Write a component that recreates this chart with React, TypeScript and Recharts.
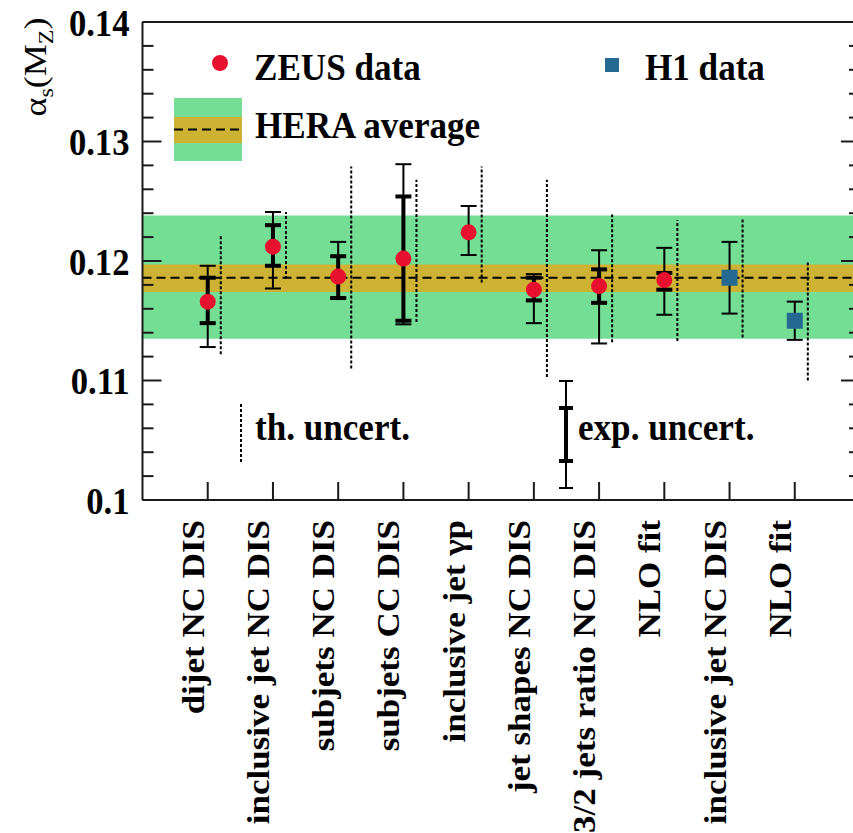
import {
  ComposedChart,
  Scatter,
  XAxis,
  YAxis,
  ErrorBar,
  ReferenceArea,
  ReferenceLine,
} from "recharts";

const categories = [
  "dijet NC DIS",
  "inclusive jet NC DIS",
  "subjets NC DIS",
  "subjets CC DIS",
  "inclusive jet γp",
  "jet shapes NC DIS",
  "3/2 jets ratio NC DIS",
  "NLO fit",
  "inclusive jet NC DIS",
  "NLO fit",
];
const experiment = ["ZEUS", "ZEUS", "ZEUS", "ZEUS", "ZEUS", "ZEUS", "ZEUS", "ZEUS", "H1", "H1"];
const alphaS = [0.1166, 0.1212, 0.1187, 0.1202, 0.1224, 0.1176, 0.1179, 0.1184, 0.1186, 0.115];
// thin bars
const expLow = [0.1128, 0.1177, 0.1169, 0.1147, 0.1205, 0.1148, 0.1131, 0.1155, 0.1156, 0.1134];
const expHigh = [0.1196, 0.1241, 0.1216, 0.1281, 0.1246, 0.1189, 0.1209, 0.1211, 0.1216, 0.1166];
// thick bars (null = hidden under the marker)
const statLow = [0.1148, 0.1196, 0.1169, 0.115, null, 0.1167, 0.1165, 0.1176, null, null];
const statHigh = [0.1186, 0.123, 0.1204, 0.1254, null, 0.1186, 0.1193, 0.119, null, null];
// dotted theory bars
const thLow = [0.1122, 0.1185, 0.111, 0.1149, 0.1182, 0.1103, 0.1132, 0.1133, 0.1136, 0.11];
const thHigh = [0.1221, 0.1241, 0.1279, 0.1268, 0.1279, 0.1268, 0.1239, 0.1234, 0.1235, 0.1199];

const heraAverage = 0.1186;
const heraExp = [0.1174, 0.1197];
const heraTotal = [0.1135, 0.1238];

const yTickLabels = ["0.1", "0.11", "0.12", "0.13", "0.14"];

const RED = "#e8102f";
const BLUE = "#24698f";
const GREEN = "#74de95";
const GOLD = "#cdb234";
const INK = "#1a1a1a";
const serif = { fontFamily: '"Liberation Serif", monospace' };
const TH_SHIFT = 0.2;

const yTicks = Array.from({ length: 21 }, (_, i) => Math.round((0.1 + i * 0.002) * 1000) / 1000);
const isMajor = (v: number) => Math.round(v * 1000) % 10 === 0;

const points = categories.map((name, i) => ({
  x: i + 1,
  name,
  exp: experiment[i],
  y: alphaS[i],
  expErr: [alphaS[i] - expLow[i], expHigh[i] - alphaS[i]],
  statErr:
    statLow[i] == null ? null : [alphaS[i] - (statLow[i] as number), (statHigh[i] as number) - alphaS[i]],
}));
const statPoints = points.filter((p) => p.statErr);
const zeusPoints = points.filter((p) => p.exp === "ZEUS");
const h1Points = points.filter((p) => p.exp === "H1");

// the original figure is a bit squeezed horizontally
const Label = ({ x, y, size = 39, anchor = "start", dy, children }: any) => (
  <text
    transform={`translate(${x},${y}) scale(0.9,1)`}
    dy={dy}
    textAnchor={anchor}
    style={serif}
    fontWeight="bold"
    fontSize={size}
    fill="#000"
  >
    {children}
  </text>
);

const CategoryTick = (props: any) => {
  const { x, y, payload } = props;
  return (
    <text
      transform={`translate(${x - 4},${y}) rotate(-90) scale(1,0.9)`}
      textAnchor="end"
      style={serif}
      fontWeight="bold"
      fontSize={35}
      fill="#000"
    >
      {categories[payload.value - 1]}
    </text>
  );
};

const LeftTick = (props: any) => {
  const { x, y, payload } = props;
  const major = isMajor(payload.value);
  const idx = Math.round((payload.value - 0.1) * 100);
  return (
    <g>
      <line x1={x} x2={x + (major ? 19 : 11)} y1={y} y2={y} stroke={INK} strokeWidth={2} />
      {major && (
        <Label x={x - 13} y={y} dy="0.36em" anchor="end" size={38.5}>
          {yTickLabels[idx]}
        </Label>
      )}
    </g>
  );
};

const RightTick = (props: any) => {
  const { x, y, payload } = props;
  const major = isMajor(payload.value);
  return <line x1={x - (major ? 19 : 11)} x2={x} y1={y} y2={y} stroke={INK} strokeWidth={2} />;
};

const Dot = (p: any) => <circle cx={p.cx} cy={p.cy} r={8} fill={RED} />;
const Square = (p: any) => <rect x={p.cx - 8} y={p.cy - 8} width={16} height={16} fill={BLUE} />;
const Nothing = () => <g />;

const Overlay = () => (
  <svg width={853} height={833} style={{ position: "absolute", left: 0, top: 0, pointerEvents: "none" }}>
    {/* y title */}
    <text
      transform="translate(46,67) rotate(-90) scale(1,0.9)"
      textAnchor="middle"
      fontSize={36}
      fill="#000"
      style={serif}
    >
      α<tspan dy={8} fontSize={24}>s</tspan>
      <tspan dy={-8}>(M</tspan>
      <tspan dy={8} fontSize={24}>Z</tspan>
      <tspan dy={-8}>)</tspan>
    </text>

    <circle cx={220} cy={63} r={8} fill={RED} />
    <Label x={254} y={80}>ZEUS data</Label>

    <rect x={605} y={58} width={14} height={14} fill={BLUE} />
    <Label x={645} y={80}>H1 data</Label>

    <rect x={174} y={98} width={68} height={63} fill={GREEN} />
    <rect x={174} y={117} width={68} height={26} fill={GOLD} />
    <line x1={174} x2={242} y1={129.5} y2={129.5} stroke="#000" strokeWidth={2} strokeDasharray="9 5" />
    <Label x={255} y={138}>HERA average</Label>

    <line x1={241} x2={241} y1={404} y2={463} stroke="#000" strokeWidth={2} strokeDasharray="3 2" />
    <Label x={255} y={440}>th. uncert.</Label>

    <g stroke="#000">
      <line x1={566} x2={566} y1={381} y2={488} strokeWidth={2} />
      <line x1={559} x2={573} y1={381} y2={381} strokeWidth={2} />
      <line x1={559} x2={573} y1={488} y2={488} strokeWidth={2} />
      <line x1={566} x2={566} y1={407} y2={462} strokeWidth={4} />
      <line x1={559} x2={573} y1={408} y2={408} strokeWidth={4} />
      <line x1={559} x2={573} y1={461} y2={461} strokeWidth={4} />
    </g>
    <Label x={578} y={440}>exp. uncert.</Label>
  </svg>
);

export default function App() {
  return (
    <div
      style={{
        position: "fixed",
        left: 0,
        top: 0,
        width: 853,
        height: 833,
        overflow: "hidden",
        background: "#fff",
        fontFamily: '"Liberation Serif", serif',
      }}
    >
      <ComposedChart width={870} height={833} margin={{ top: 22, right: 0, bottom: 0, left: 0 }}>
        <XAxis
          type="number"
          dataKey="x"
          domain={[0, 11]}
          ticks={[1, 2, 3, 4, 5, 6, 7, 8, 9, 10]}
          interval={0}
          height={333}
          tickSize={-18}
          tickMargin={38}
          tick={<CategoryTick />}
          tickLine={{ stroke: INK, strokeWidth: 2 }}
          axisLine={{ stroke: INK, strokeWidth: 2 }}
          allowDataOverflow
        />
        <YAxis
          type="number"
          domain={[0.1, 0.14]}
          ticks={yTicks}
          interval={0}
          width={142.5}
          tickSize={0}
          tickMargin={0}
          tickLine={false}
          tick={<LeftTick />}
          axisLine={{ stroke: INK, strokeWidth: 2 }}
          allowDataOverflow
        />
        <YAxis
          yAxisId="r"
          orientation="right"
          type="number"
          domain={[0.1, 0.14]}
          ticks={yTicks}
          interval={0}
          width={10}
          tickSize={0}
          tickMargin={0}
          tickLine={false}
          tick={<RightTick />}
          axisLine={{ stroke: INK, strokeWidth: 2 }}
          allowDataOverflow
        />

        <ReferenceArea y1={heraTotal[0]} y2={heraTotal[1]} fill={GREEN} fillOpacity={1} stroke="none" />
        <ReferenceArea y1={heraExp[0]} y2={heraExp[1]} fill={GOLD} fillOpacity={1} stroke="none" />
        <ReferenceLine y={heraAverage} stroke="#000" strokeWidth={2} strokeDasharray="9 5" />
        <ReferenceLine y={0.14} stroke={INK} strokeWidth={2} />

        {points.map((p, i) => (
          <ReferenceLine
            key={`th-${i}`}
            segment={[
              { x: p.x + TH_SHIFT, y: thLow[i] },
              { x: p.x + TH_SHIFT, y: thHigh[i] },
            ]}
            stroke="#000"
            strokeWidth={2}
            strokeDasharray="3 2"
            ifOverflow="visible"
          />
        ))}

        <Scatter data={points} dataKey="y" shape={<Nothing />} isAnimationActive={false}>
          <ErrorBar dataKey="expErr" direction="y" width={8} stroke="#000" strokeWidth={2} isAnimationActive={false} />
        </Scatter>
        <Scatter data={statPoints} dataKey="y" shape={<Nothing />} isAnimationActive={false}>
          <ErrorBar dataKey="statErr" direction="y" width={8} stroke="#000" strokeWidth={4} isAnimationActive={false} />
        </Scatter>
        <Scatter data={zeusPoints} dataKey="y" shape={<Dot />} isAnimationActive={false} />
        <Scatter data={h1Points} dataKey="y" shape={<Square />} isAnimationActive={false} />
      </ComposedChart>
      <Overlay />
    </div>
  );
}
